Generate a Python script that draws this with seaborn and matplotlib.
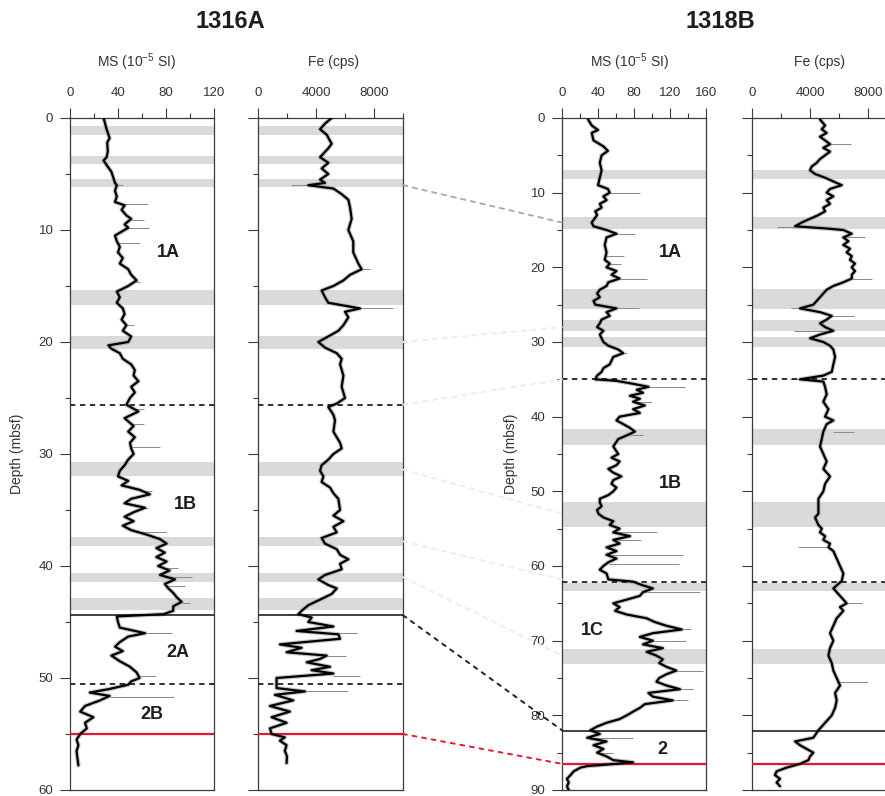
import matplotlib
matplotlib.use("Agg")
import matplotlib.pyplot as plt
import seaborn as sns
import pandas as pd
from matplotlib.patches import ConnectionPatch
from matplotlib.ticker import MultipleLocator

# ---------------- data ----------------
# Site 1316A magnetic susceptibility (10^-5 SI)
ms16_depth = [0, 1, 1.8, 2.2, 3, 3.5, 3.8, 4.2, 4.8, 5.3,
              5.8, 6.0, 6.5, 7, 7.5, 7.8, 8.2, 8.7, 9.0, 9.5,
              9.8, 10.5, 11, 11.5, 12, 12.5, 13, 13.5, 14, 14.5,
              15, 15.5, 16, 16.5, 17, 17.5, 18, 18.5, 19, 19.5,
              20, 20.3, 20.6, 21, 21.5, 22, 22.5, 23, 23.5, 24,
              24.5, 25, 25.6, 26.2, 26.8, 27.5, 28, 28.5, 29, 29.5,
              30, 30.5, 31, 31.5, 32, 32.4, 32.8, 33.2, 33.6, 34,
              34.4, 34.8, 35.2, 35.6, 36, 36.4, 36.8, 37.2, 37.6, 38,
              38.4, 38.8, 39.2, 39.6, 40, 40.4, 40.8, 41.2, 41.6, 42,
              42.4, 42.8, 43.2, 43.6, 44.0, 44.3, 44.5, 45, 45.5, 46,
              46.3, 46.8, 47.2, 47.6, 48, 48.5, 49, 49.5, 50, 50.3,
              50.6, 51, 51.3, 51.6, 52, 52.5, 53, 53.5, 54, 54.5,
              55, 55.5, 56, 56.5, 57, 57.8]
ms16_value = [28, 30.5, 33, 31, 31.5, 30.5, 28, 30.5, 34.5, 36,
              37.5, 39, 37.5, 39, 37.5, 45.5, 43, 47, 51, 45.5,
              48.5, 37.5, 39, 41.5, 40, 44, 41.5, 48.5, 51, 55.5,
              48.5, 39, 41.5, 39, 44, 45.5, 43, 47, 44, 51,
              48.5, 32, 34.5, 41.5, 44, 51, 54, 53, 57, 51,
              54, 50, 47, 57, 45.5, 53, 48.5, 54, 50, 51,
              53, 48.5, 45.5, 41.5, 40, 48.5, 43, 58, 66.5, 51,
              45.5, 62.5, 53, 45.5, 53, 44, 51, 64, 75, 80.5,
              72, 79, 72, 80.5, 73.5, 83, 75, 87.5, 79, 82,
              86, 89, 93, 86, 86, 78, 39, 40, 41.5, 62.5,
              48.5, 41.5, 37.5, 44, 34.5, 41.5, 50, 55.5, 58, 51,
              48.5, 32, 16.5, 33, 25, 12.5, 8.5, 19.5, 12.5, 14,
              8.5, 5.5, 7, 5.5, 6, 7]
# spikes of the raw record: depth, from, to
ms16_spk_depth = [6.0, 7.7, 9.1, 9.8, 11.2, 14.6, 18.5, 26.0, 27.3, 29.4,
                  33.3, 34.8, 37.0, 40.2, 41.0, 41.8, 43.3, 46.0, 49.8, 51.7]
ms16_spk_from = [39, 45, 51, 48, 40, 55, 47, 55, 50, 51,
                 58, 62, 60, 80, 80, 80, 93, 62, 58, 33]
ms16_spk_to = [44, 65, 62, 66, 58, 58, 53, 62, 62, 75,
               68, 65, 80, 90, 102, 96, 100, 85, 72, 87]

# Site 1316A Fe counts (cps)
fe16_depth = [0, 0.5, 1, 1.5, 2.3, 2.7, 3.5, 4, 4.5, 5,
              5.5, 5.8, 6.0, 6.3, 6.8, 7.3, 8, 9, 10, 11,
              12, 13, 13.5, 14, 14.5, 15, 15.4, 16, 16.5, 17,
              17.3, 17.8, 18.5, 19, 19.5, 20, 20.5, 21, 21.5, 22,
              23, 24, 25, 25.5, 25.8, 26.5, 27, 28, 29, 29.5,
              30, 30.5, 31, 31.5, 32, 32.5, 33, 33.5, 34, 35,
              35.5, 36, 36.5, 37, 37.5, 38, 38.5, 39, 39.4, 39.8,
              40.3, 40.8, 41.2, 41.7, 42, 42.5, 43, 43.5, 44, 44.3,
              44.6, 45, 45.4, 45.8, 46.1, 46.5, 47, 47.3, 47.7, 48,
              48.3, 48.6, 49, 49.3, 49.6, 50, 50.5, 50.9, 51.2, 51.5,
              52, 52.5, 53, 53.5, 54, 54.5, 55, 55.3, 55.6, 56,
              56.5, 57, 57.6]
fe16_value = [5080, 4620, 4280, 4740, 5080, 4850, 4280, 4850, 4390, 4850,
              4280, 4620, 3470, 5200, 5770, 6230, 6350, 6460, 6230, 6570,
              6570, 6920, 7150, 6350, 5890, 5200, 4390, 4620, 4850, 7040,
              6000, 6230, 5890, 5540, 4850, 4160, 4620, 5430, 5770, 5660,
              5890, 5770, 6000, 5430, 4850, 5200, 5310, 5200, 5660, 5770,
              5200, 4850, 4390, 4280, 4510, 4390, 4970, 5200, 5540, 5660,
              5200, 5890, 5200, 5430, 4390, 4620, 5430, 5660, 6230, 5660,
              5770, 4620, 4160, 4850, 5430, 5080, 4280, 3470, 3010, 2780,
              3700, 3470, 5200, 2660, 5540, 5660, 1510, 3010, 1970, 4740,
              4280, 3360, 4970, 3700, 5200, 1280, 1280, 1280, 3240, 1170,
              2430, 820, 2200, 940, 1970, 820, 940, 1850, 1510, 1970,
              1850, 2000, 1970]
fe16_spk_depth = [6.0, 13.5, 17.0, 44.3, 46.0, 48.0, 49.8, 51.2]
fe16_spk_from = [3470, 7150, 7040, 2780, 5540, 4740, 5200, 3240]
fe16_spk_to = [2300, 7700, 9300, 2000, 6800, 6100, 7000, 6200]

# Site 1318B magnetic susceptibility (10^-5 SI)
ms18_depth = [0.2, 1, 1.6, 2, 3, 3.8, 4.4, 5, 6, 7,
              8, 9, 9.5, 10, 10.5, 11, 11.5, 12, 12.5, 13,
              14, 14.5, 15, 15.5, 16, 17, 18, 19, 19.5, 20,
              20.5, 21, 21.5, 22, 22.5, 23, 23.5, 24, 24.5, 25,
              25.5, 26, 26.5, 27, 27.5, 28, 28.5, 29, 29.5, 30,
              30.5, 31, 31.5, 32, 33, 33.5, 34, 34.5, 35, 35.2,
              35.6, 36, 36.4, 36.8, 37.2, 37.6, 38, 38.5, 39, 39.5,
              40, 40.5, 41, 41.5, 42, 42.5, 43, 44, 45, 45.5,
              46, 46.5, 47, 47.5, 48, 48.5, 49, 49.5, 50, 50.5,
              51, 51.5, 52, 52.5, 53, 53.5, 54, 54.5, 55, 55.5,
              56, 56.5, 57, 57.5, 58, 58.5, 59, 59.5, 60, 60.5,
              61, 61.8, 62.1, 62.6, 63, 63.5, 64, 64.5, 65, 65.5,
              66, 66.5, 67, 67.5, 68, 68.5, 69, 69.5, 70, 70.5,
              71, 71.5, 72, 72.5, 73, 73.5, 74, 74.5, 75, 75.5,
              76, 76.5, 77, 77.5, 78, 78.5, 79, 79.5, 80, 80.5,
              81, 81.5, 82, 82.5, 83, 83.5, 84, 84.5, 85, 85.5,
              86, 86.3, 86.6, 86.8, 87, 87.5, 88, 88.5, 89, 89.5,
              90]
ms18_value = [29, 33, 40, 33, 35, 46, 51, 44, 42, 44,
              42, 40, 51, 53, 46, 49.5, 42, 44, 37, 39,
              33, 35, 49.5, 60.5, 49.5, 47.5, 49.5, 47.5, 53, 49.5,
              60.5, 55, 64, 51.5, 49.5, 42, 39, 42, 35, 37,
              60.5, 49.5, 53, 44, 42, 39, 46, 42, 44, 46,
              51.5, 62.5, 68, 57, 53, 46, 44, 39, 37, 60.5,
              79, 96, 83, 90, 75.5, 86.5, 79, 92, 79, 86.5,
              64, 60.5, 68, 75.5, 81, 72, 62.5, 57, 62.5, 55,
              64, 60.5, 51.5, 57, 66, 57, 55, 60.5, 57, 51.5,
              42, 42, 44, 39, 40.5, 46, 57, 53, 64, 57,
              75.5, 57, 64, 49.5, 60.5, 49.5, 60.5, 51.5, 46, 42,
              49.5, 51.5, 79, 90, 101, 90, 86.5, 72, 57, 64,
              59, 72, 94, 103, 116, 133, 101, 86.5, 101, 90,
              112, 94, 105, 112, 108, 116, 127, 116, 108, 105,
              116, 131, 96, 101, 123, 92, 86.5, 79, 72, 64,
              49.5, 39, 31.5, 42, 28, 49.5, 35, 46, 39, 49.5,
              57, 79, 49.5, 28, 20.5, 13, 9.5, 5.5, 7.5, 5.5,
              7.5]
ms18_spk_depth = [10.0, 15.5, 18.5, 19.5, 21.5, 25.5, 31.5, 36.0, 38.0, 42.5,
                  55.5, 56.5, 58.5, 59.7, 63.5, 68.5, 70.0, 74.0, 76.5, 78.0,
                  83.0, 85.0]
ms18_spk_from = [53, 60, 49, 53, 64, 60, 68, 96, 79, 72,
                 57, 57, 50, 52, 90, 133, 101, 127, 131, 123,
                 28, 39]
ms18_spk_to = [87, 81, 69, 66, 94, 86, 72, 137, 100, 90,
               105, 88, 134, 130, 153, 143, 138, 157, 145, 140,
               79, 57]

# Site 1318B Fe counts (cps)
fe18_depth = [0.2, 1, 1.5, 2, 2.5, 3, 3.5, 4, 4.5, 5,
              5.5, 6, 6.5, 7, 7.5, 8, 8.5, 9, 9.5, 10,
              10.5, 11, 11.5, 12, 12.5, 13, 13.5, 14, 14.5, 14.8,
              15, 15.5, 16, 16.5, 17, 17.5, 18, 18.5, 19, 19.5,
              20, 20.5, 21, 21.5, 22, 22.5, 23, 23.5, 24, 24.5,
              25, 25.5, 26, 26.5, 27, 27.5, 28, 28.5, 29, 29.5,
              30, 30.5, 31, 32, 33, 34, 34.5, 35, 35.3, 36,
              37, 38, 39, 40, 40.5, 41, 42, 43, 44, 45,
              46, 47, 48, 49, 50, 51, 52, 53, 53.5, 54,
              54.5, 55, 55.5, 56, 56.5, 57, 57.5, 58, 59, 60,
              61, 62, 63, 64, 65, 65.5, 66, 67, 68, 69,
              70, 71, 72, 73, 74, 75, 76, 77, 78, 79,
              80, 81, 82, 83, 83.5, 84, 84.5, 85, 85.5, 86,
              86.5, 87, 87.5, 88, 88.5, 89, 89.5]
fe18_value = [4690, 5040, 4810, 5150, 4690, 5040, 5380, 4920, 5380, 5040,
              4690, 4460, 4120, 4000, 4350, 5040, 5610, 6190, 5380, 5150,
              5610, 5150, 5380, 4920, 5040, 4580, 4000, 3430, 2970, 5150,
              6300, 6880, 6300, 6650, 6300, 6760, 6530, 6880, 6760, 7100,
              6880, 7100, 6880, 6880, 6300, 5610, 5150, 4920, 4690, 4460,
              4230, 3310, 4690, 5500, 5150, 4690, 5040, 5610, 4690, 4000,
              4920, 5380, 5610, 5730, 5610, 5500, 4920, 3310, 4920, 5040,
              5150, 4920, 5270, 5040, 5610, 5150, 4920, 4810, 4690, 4920,
              5150, 4920, 5380, 5040, 4920, 4580, 4580, 4580, 4350, 4460,
              4580, 4810, 4690, 5040, 4920, 5380, 5270, 5610, 5840, 6070,
              6300, 6190, 5610, 6070, 6530, 6070, 6300, 5840, 5610, 5380,
              5610, 5380, 5270, 5500, 5610, 5840, 6070, 5730, 5840, 5730,
              5500, 5040, 4580, 4230, 2970, 3310, 3770, 4230, 4000, 3890,
              3310, 2390, 1700, 1580, 1930, 1700, 1930]
fe18_spk_depth = [3.5, 14.6, 16.0, 21.5, 25.5, 26.5, 28.5, 35.0, 42.0, 57.5, 65.0, 75.5]
fe18_spk_from = [5380, 2970, 6300, 6880, 3310, 5500, 5610, 3310, 5610, 5270, 6530, 5840]
fe18_spk_to = [6800, 1750, 7800, 8300, 2700, 7000, 2900, 2600, 7000, 3200, 7600, 8000]

# grey intervals (depth top, depth bottom)
band16_top = [0.75, 3.4, 5.45, 15.4, 19.5, 30.75, 37.4, 40.6, 42.9]
band16_bot = [1.5, 4.1, 6.2, 16.7, 20.6, 32.0, 38.2, 41.4, 43.95]
band18_top = [7.0, 13.2, 22.9, 27.1, 29.3, 41.7, 51.4, 62.3, 71.1]
band18_bot = [8.2, 14.8, 25.6, 28.5, 30.7, 43.8, 54.8, 63.3, 73.1]

# unit boundaries
bnd16_dashed = [25.6, 50.5]
bnd16_solid = [44.4]
bnd16_red = [55.0]
bnd18_dashed = [35.0, 62.1]
bnd18_solid = [82.1]
bnd18_red = [86.5]

# unit labels
unit16_name = ["1A", "1B", "2A", "2B"]
unit16_depth = [12.0, 34.5, 47.7, 53.3]
unit16_x = [82, 96, 90, 68]
unit18_name = ["1A", "1B", "1C", "2"]
unit18_depth = [18.0, 48.9, 68.6, 84.6]
unit18_x = [120, 120, 34, 111]

# correlations 1316A -> 1318B
corr16 = [6.0, 20.0, 25.6, 31.4, 37.8, 41.0, 44.4, 55.0]
corr18 = [14.0, 28.0, 35.0, 53.0, 61.8, 72.0, 82.0, 86.5]
corr_kind = ["grey", "faint", "faint", "faint", "faint", "faint", "black", "red"]

site_names = ["1316A", "1318B"]
ms_label = "MS (10$^{-5}$ SI)"
fe_label = "Fe (cps)"
depth_label = "Depth (mbsf)"

# ---------------- style ----------------
sns.set_theme(style="white")
plt.rcParams["font.family"] = ["Liberation Sans", "DejaVu Sans"]
plt.rcParams["mathtext.fontset"] = "custom"
plt.rcParams["mathtext.rm"] = "Liberation Sans"
plt.rcParams["mathtext.it"] = "Liberation Sans:italic"
plt.rcParams["mathtext.bf"] = "Liberation Sans:bold"

W, H = 885, 796
fig = plt.figure(figsize=(W / 100, H / 100), dpi=100)
fig.patch.set_facecolor("white")

AX_COL = "#3a3a3a"
TXT_COL = "#333333"
BAND_COL = "#dadada"
RED = "#e3172f"


def px_axes(left, top, width, height):
    return fig.add_axes([left / W, 1 - (top + height) / H, width / W, height / H])


ax1 = px_axes(70, 118, 144, 672)
ax2 = px_axes(258, 118, 145, 672)
ax3 = px_axes(562, 118, 144, 672)
ax4 = px_axes(752, 118, 145, 672)


def setup(ax, xmax, xmaj, dmax, show_depth_labels):
    ax.set_xlim(0, xmax)
    ax.set_ylim(dmax, 0)
    ax.set_facecolor("white")
    ax.xaxis.set_major_locator(MultipleLocator(xmaj))
    ax.xaxis.set_minor_locator(MultipleLocator(xmaj / 2))
    ax.yaxis.set_major_locator(MultipleLocator(10))
    ax.yaxis.set_minor_locator(MultipleLocator(5))
    ax.tick_params(which="both", top=True, bottom=False, left=True, right=False,
                   labeltop=True, labelbottom=False, labelleft=show_depth_labels,
                   direction="out", colors=AX_COL, labelcolor=TXT_COL)
    ax.tick_params(which="major", length=7, width=0.8, labelsize=9.5)
    ax.tick_params(which="minor", length=3.5, width=0.8)
    ax.tick_params(axis="x", which="major", pad=7)
    ax.tick_params(axis="y", which="major", pad=5)
    ax.set_xlabel("")
    ax.set_ylabel("")
    for s in ax.spines.values():
        s.set_visible(True)
        s.set_color(AX_COL)
        s.set_linewidth(0.9)


def draw_track(ax, depth, value, spk_d, spk_a, spk_b, tops, bots,
               dashed, solid, red):
    for a, b in zip(tops, bots):
        ax.axhspan(a, b, color=BAND_COL, lw=0, zorder=0)
    df = pd.DataFrame({"depth": depth, "value": value})
    sns.lineplot(data=df, x="value", y="depth", orient="y", sort=False,
                 estimator=None, ax=ax, color="#9a9a9a", lw=3.2, alpha=0.55,
                 legend=False, zorder=2)
    ax.hlines(spk_d, spk_a, spk_b, color="#8a8a8a", lw=0.7, zorder=2)
    for d in dashed:
        ax.axhline(d, color="#222222", lw=1.3, ls=(0, (3, 2.5)), zorder=3)
    for d in solid:
        ax.axhline(d, color="#222222", lw=1.2, zorder=3)
    for d in red:
        ax.axhline(d, color=RED, lw=1.6, zorder=3)
    sns.lineplot(data=df, x="value", y="depth", orient="y", sort=False,
                 estimator=None, ax=ax, color="black", lw=1.6,
                 legend=False, zorder=4)
    ax.set_xlabel("")
    ax.set_ylabel("")


draw_track(ax1, ms16_depth, ms16_value, ms16_spk_depth, ms16_spk_from, ms16_spk_to,
           band16_top, band16_bot, bnd16_dashed, bnd16_solid, bnd16_red)
draw_track(ax2, fe16_depth, fe16_value, fe16_spk_depth, fe16_spk_from, fe16_spk_to,
           band16_top, band16_bot, bnd16_dashed, bnd16_solid, bnd16_red)
draw_track(ax3, ms18_depth, ms18_value, ms18_spk_depth, ms18_spk_from, ms18_spk_to,
           band18_top, band18_bot, bnd18_dashed, bnd18_solid, bnd18_red)
draw_track(ax4, fe18_depth, fe18_value, fe18_spk_depth, fe18_spk_from, fe18_spk_to,
           band18_top, band18_bot, bnd18_dashed, bnd18_solid, bnd18_red)

setup(ax1, 120, 40, 60, True)
setup(ax2, 10000, 4000, 60, False)
setup(ax3, 160, 40, 90, True)
setup(ax4, 10000, 4000, 90, False)
ax2.set_xticks([0, 4000, 8000])
ax4.set_xticks([0, 4000, 8000])

for name, d, x in zip(unit16_name, unit16_depth, unit16_x):
    ax1.text(x, d, name, ha="center", va="center", fontsize=13,
             fontweight="bold", color="#1e1e1e", zorder=5)
for name, d, x in zip(unit18_name, unit18_depth, unit18_x):
    ax3.text(x, d, name, ha="center", va="center", fontsize=13,
             fontweight="bold", color="#1e1e1e", zorder=5)

# correlation lines between the two sites
style = {
    "grey": dict(color="#a8a8a8", lw=1.3, ls=(0, (2.5, 3))),
    "faint": dict(color="#ececec", lw=1.3, ls=(0, (2.5, 3))),
    "black": dict(color="#222222", lw=1.4, ls=(0, (2, 3))),
    "red": dict(color=RED, lw=1.4, ls=(0, (2, 3))),
}
for d1, d2, k in zip(corr16, corr18, corr_kind):
    con = ConnectionPatch(xyA=(ax2.get_xlim()[1], d1), coordsA=ax2.transData,
                          xyB=(0, d2), coordsB=ax3.transData, **style[k])
    con.set_zorder(1)
    fig.add_artist(con)

# titles and headers
fig.text(230 / W, 1 - 22 / H, site_names[0], ha="center", va="center",
         fontsize=17, fontweight="bold", color="#1e1e1e")
fig.text(720 / W, 1 - 22 / H, site_names[1], ha="center", va="center",
         fontsize=17, fontweight="bold", color="#1e1e1e")
fig.text(137 / W, 1 - 62 / H, ms_label, ha="center", va="center", fontsize=10, color=TXT_COL)
fig.text(333 / W, 1 - 62 / H, fe_label, ha="center", va="center", fontsize=10, color=TXT_COL)
fig.text(630 / W, 1 - 62 / H, ms_label, ha="center", va="center", fontsize=10, color=TXT_COL)
fig.text(820 / W, 1 - 62 / H, fe_label, ha="center", va="center", fontsize=10, color=TXT_COL)
fig.text(17 / W, 1 - 454 / H, depth_label, ha="center", va="center", rotation=90,
         fontsize=10, color=TXT_COL)
fig.text(511 / W, 1 - 454 / H, depth_label, ha="center", va="center", rotation=90,
         fontsize=10, color=TXT_COL)

fig.savefig("out.png", dpi=100, facecolor="white")
